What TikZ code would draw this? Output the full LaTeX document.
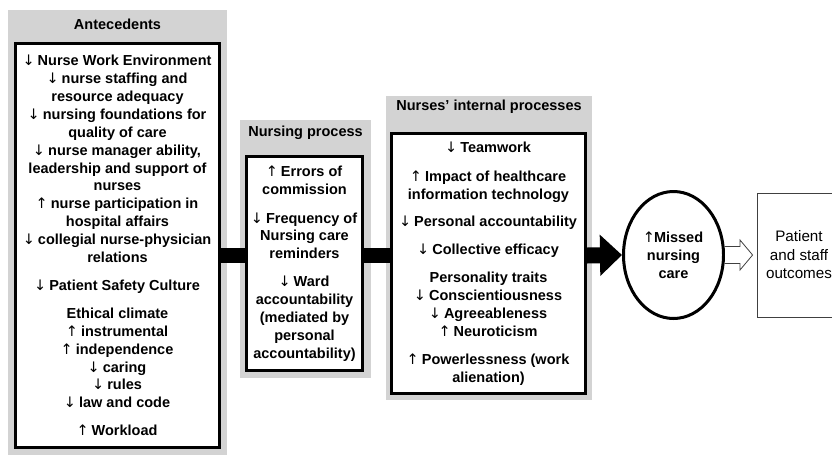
\documentclass[tikz,border=0pt]{standalone}
\usepackage{fontspec}
\setmainfont{Liberation Sans}
\newfontfamily\arrowfont{DejaVu Sans}
\usetikzlibrary{shapes.geometric,arrows.meta,calc}

\definecolor{panelgray}{RGB}{211,211,211}
\def\txt{\bfseries\fontsize{14.5}{17.9}\selectfont}
\def\arrdn{{\arrowfont\mdseries\kern-1pt↓\kern-1pt}}
\def\arrup{{\arrowfont\mdseries\kern-1pt↑\kern-1pt}}

\tikzset{
	panel/.style={fill=panelgray,draw=none},
	heading/.style={font=\txt,inner sep=0pt},
	inbox/.style={draw=black,line width=3pt,fill=white,align=center,inner sep=0pt,font=\txt},
	bar/.style={draw=black,line width=15pt},
	hollow/.style={draw=black!75,line width=0.8pt,fill=white,line join=miter}
}

\begin{document}
\begin{tikzpicture}[x=1pt,y=-1pt]
			\clip (0,0) rectangle (832,458);

			% grey panels
			\fill[panel] (8,10) rectangle (227,455);
			\fill[panel] (240,120) rectangle (371,378);
			\fill[panel] (386,96) rectangle (592,400);

			% panel headings
			\node[heading] (anteh) at (117.5,24) {Antecedents};
			\node[heading] (nproch) at (305.5,133) {Nursing process};
			\node[heading] (intph) at (489,107) {Nurses’ internal processes};

			\coordinate (axis) at (0,255.5);

			% Antecedents
			\node[inbox,minimum width=204,minimum height=404] (ante) at (117.5,245.5) {
				\arrdn{} Nurse Work Environment\\
				\arrdn{} nurse staffing and\\
				resource adequacy\\
				\arrdn{} nursing foundations for\\
				quality of care\\
				\arrdn{} nurse manager ability,\\
				leadership and support of\\
				nurses\\
				\arrup{} nurse participation in\\
				hospital affairs\\
				\arrdn{} collegial nurse-physician\\
				relations\\[10pt]
				\arrdn{} Patient Safety Culture\\[10pt]
				Ethical climate\\
				\arrup{} instrumental\\
				\arrup{} independence\\
				\arrdn{} caring\\
				\arrdn{} rules\\
				\arrdn{} law and code\\[10pt]
				\arrup{} Workload
			};

			% Nursing process
			\node[inbox,minimum width=116,minimum height=214] (nproc) at (304.5,263.5) {
				\arrup{} Errors of\\
				commission\\[11pt]
				\arrdn{} Frequency of\\
				Nursing care\\
				reminders\\[10pt]
				\arrdn{} Ward\\
				accountability\\
				(mediated by\\
				personal\\
				accountability)
			};

			% Nurses' internal processes
			\node[inbox,minimum width=194,minimum height=260] (intp) at (488.5,263.5) {
				\arrdn{} Teamwork\\[11pt]
				\arrup{} Impact of healthcare\\
				information technology\\[10pt]
				\arrdn{} Personal accountability\\[10pt]
				\arrdn{} Collective efficacy\\[10pt]
				Personality traits\\
				\arrdn{} Conscientiousness\\
				\arrdn{} Agreeableness\\
				\arrup{} Neuroticism\\[10pt]
				\arrup{} Powerlessness (work\\
				alienation)
			};

			% Missed nursing care
			\node[ellipse,draw=black,line width=3pt,fill=white,align=center,inner sep=0pt,
				minimum width=100,minimum height=127,font=\txt] (miss) at (673.5,255) {
				\arrup{}Missed\\
				nursing\\
				care
			};

			% Outcomes
			\node[draw=black!75,line width=0.8pt,fill=white,align=center,inner sep=0pt,
				minimum width=84,minimum height=124,font=\fontsize{15.2}{18.5}\selectfont] (outc) at (799,255) {
				Patient\\
				and staff\\
				outcomes
			};

			% connectors
			\draw[bar] (ante.east |- axis) -- (nproc.west |- axis);
			\draw[bar] (nproc.east |- axis) -- (intp.west |- axis);
			\draw[draw=black,line width=16pt,-{Triangle[length=22pt,width=40pt]}]
				(intp.east |- axis) -- (miss.west);
			\draw[hollow] ($(miss.east)+(0,-8.5)$) -- ++(15,0) -- ++(0,-6.5)
				-- ($(outc.west)+(-4,0)$) -- ($(miss.east)+(15,15)$) -- ++(0,-6.5)
				-- ($(miss.east)+(0,8.5)$);
		\end{tikzpicture}
\end{document}
